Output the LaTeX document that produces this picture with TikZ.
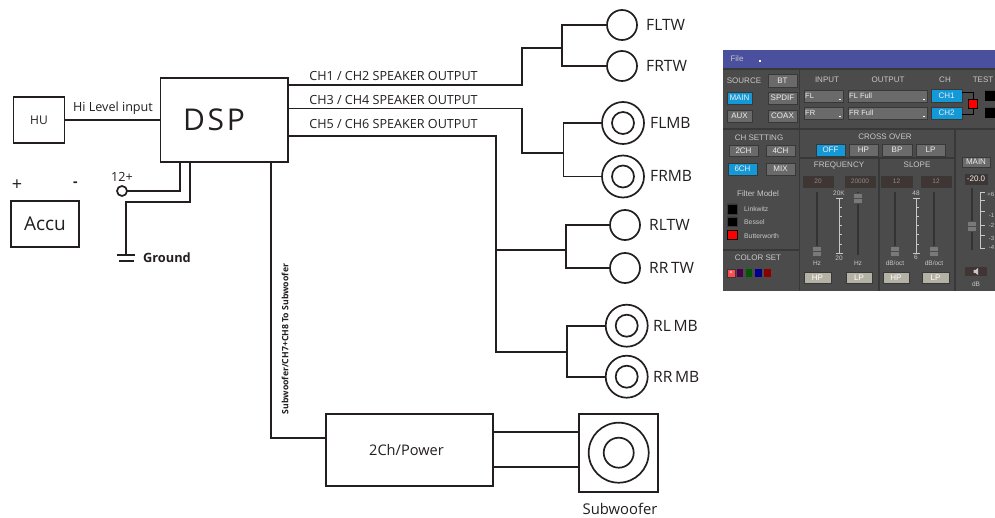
\documentclass[tikz,border=0pt]{standalone}
\usepackage{fontspec}
\setmainfont{Open Sans}
\newfontfamily\panelfont{Liberation Sans}
\definecolor{ink}{HTML}{231F20}
\definecolor{pbg}{HTML}{4B4B4B}
\definecolor{pdark}{HTML}{383838}
\definecolor{pbar}{HTML}{4A4F9E}
\definecolor{pbtn}{HTML}{6A6A6A}
\definecolor{pblue}{HTML}{1398D8}
\definecolor{ptxt}{HTML}{C8C8C8}
\definecolor{pdisp}{HTML}{3F3532}
\definecolor{plight}{HTML}{B4B2A4}
\newcounter{pn}
\newcommand\pb[6]{\stepcounter{pn}%
  \node[name=p\arabic{pn},pblock,fill=#5,minimum width=#3-#1,minimum height=#4-#2] at ({(#1+#3)/2},{(#2+#4)/2}) {};
  \node[name=t\arabic{pn},ptext,text=ptxt!30!white] at ({(#1+#3)/2},{(#2+#4)/2}) {#6};}
\newcommand\pt[3]{\stepcounter{pn}\node[name=t\arabic{pn},ptext] at (#1,#2) {#3};}
\newcommand\pts[3]{\stepcounter{pn}\node[name=t\arabic{pn},ptext,font=\panelfont\fontsize{6.5}{7}\selectfont] at (#1,#2) {#3};}
\newcommand\ptr[3]{\stepcounter{pn}\node[name=t\arabic{pn},ptext,anchor=east,font=\panelfont\fontsize{6}{7}\selectfont] at (#1,#2) {#3};}
\newcommand\pleft[3]{\stepcounter{pn}\node[name=t\arabic{pn},ptext,anchor=west,font=\panelfont\fontsize{6.8}{8}\selectfont] at (#1,#2) {#3};}
\newcommand\pdrop[5]{\pb{#1}{#2}{#3}{#4}{pbtn}{}%
  \stepcounter{pn}\node[name=t\arabic{pn},ptext,anchor=west,text=ptxt!30!white,font=\panelfont\fontsize{7.5}{8}\selectfont] at (#1+1,{(#2+#4)/2}) {#5};
  \fill[white] (#3-4,#4-3) rectangle (#3-2.5,#4-1.8);}
\newcommand\pslider[4]{% x, y1, y2, knob y
  \draw[black!80,line width=1.4pt] (#1,#2) -- (#1,#3);
  \fill[pbtn!90!white,draw=black!70,line width=.5pt] (#1-4.5,#4-5) rectangle (#1+4.5,#4+5);
  \draw[black!70,line width=.8pt] (#1-4.5,#4) -- (#1+4.5,#4);}
\newcommand\pscale[3]{% x, y1, y2
  \draw[ptxt,line width=.7pt] (#1,#2) -- (#1,#3);
  \foreach \k in {0,...,6} \draw[ptxt,line width=.5pt] (#1,{#2+(#3-#2)*\k/6}) -- ++(3,0);
  \draw[ptxt,line width=.7pt] (#1-3,#2) -- ++(7,0) (#1-3,#3) -- ++(7,0);}
\tikzset{
  wire/.style={draw=ink,line width=1.7pt,line join=miter},
  box/.style={draw=ink,line width=1.7pt,rectangle,inner sep=0pt,outer sep=0pt,text=ink},
  spk/.style={draw=ink,line width=1.7pt,circle,inner sep=0pt,outer sep=0pt,fill=white},
  lbl/.style={text=ink,inner sep=0pt,font=\fontsize{12.6}{14}\selectfont},
  spkl/.style={lbl,anchor=west,font=\fontsize{15.6}{17}\selectfont},
  pblock/.style={rectangle,inner sep=0pt,outer sep=0pt,draw=pdark,line width=.6pt},
  ptext/.style={inner sep=0pt,text=ptxt,font=\panelfont\fontsize{8}{9}\selectfont},
}
\begin{document}
\begin{tikzpicture}[x=1pt,y=-1pt]
\useasboundingbox (0,0) rectangle (995,518);
\fill[white] (0,0) rectangle (995,518);
% ---- boxes
\node[box,minimum width=51pt,minimum height=46pt,font=\fontsize{12}{14}\selectfont] (hu) at (39,120) {HU};
\node[box,minimum width=127.5pt,minimum height=84pt] (dsp) at (224.25,120) {};
\node[box,minimum width=68pt,minimum height=46pt,font=\fontsize{19}{21}\selectfont] (accu) at (45,224) {Accu};
\node[box,minimum width=167pt,minimum height=71.5pt] (pow) at (409.5,450) {};
\node[box,minimum width=79pt,minimum height=78pt] (subbox) at (618.5,453) {};
\node[spk,minimum size=60pt] (subo) at (618.7,452.7) {};
\node[spk,minimum size=30pt] (subi) at (618.7,452.7) {};
\node[lbl,font=\fontsize{30}{32}\selectfont] (tdsp) at (214,120) {\addfontfeature{LetterSpace=9}DSP};
\node[lbl,font=\fontsize{14.6}{16}\selectfont] (tpow) at (406.5,450) {2Ch/Power};
% ---- speakers
\node[spk,minimum size=30pt] (fltw) at (622,25) {};
\node[spk,minimum size=30pt] (frtw) at (622,66) {};
\node[spk,minimum size=42pt] (flmb) at (623,123) {};
\node[spk,minimum size=22pt] (flmbi) at (623,123) {};
\node[spk,minimum size=42pt] (frmb) at (623,176.5) {};
\node[spk,minimum size=22pt] (frmbi) at (623,176.5) {};
\node[spk,minimum size=30pt] (rltw) at (625,225) {};
\node[spk,minimum size=30pt] (rrtw) at (625,268) {};
\node[spk,minimum size=42pt] (rlmb) at (626.7,325.7) {};
\node[spk,minimum size=22pt] (rlmbi) at (626.7,325.7) {};
\node[spk,minimum size=42pt] (rrmb) at (626.7,376.7) {};
\node[spk,minimum size=22pt] (rrmbi) at (626.7,376.7) {};
\node[spkl] (tfltw) at (646,25) {FLTW};
\node[spkl] (tfrtw) at (646,66) {FRTW};
\node[spkl] (tflmb) at (650,123) {FLMB};
\node[spkl] (tfrmb) at (650,175.5) {FRMB};
\node[spkl] (trltw) at (649,225) {RLTW};
\node[spkl] (trrtw) at (649,268) {RR\,TW};
\node[spkl] (trlmb) at (653,325.5) {RL\,MB};
\node[spkl] (trrmb) at (653,377) {RR\,MB};
% ---- wires DSP to speakers
\coordinate (a1) at (522,85); \coordinate (a2) at (522,48); \coordinate (j1) at (562,48);
\draw[wire] (dsp.east|-a1) -- (a1) -- (a2) -- (j1);
\draw[wire] (fltw.west) -| (j1);
\draw[wire] (frtw.west) -| (j1);
\coordinate (b1) at (522,108.5); \coordinate (b2) at (522,153); \coordinate (j2) at (563.5,153);
\draw[wire] (dsp.east|-b1) -- (b1) -- (b2) -- (j2);
\draw[wire] (flmb.west) -| (j2);
\draw[wire] (frmb.west) -| (j2);
\coordinate (c1) at (496,136); \coordinate (c2) at (496,352); \coordinate (j4) at (567,352);
\coordinate (j3) at (566,250);
\draw[wire] (dsp.east|-c1) -- (c1) -- (c2) -- (j4);
\draw[wire] (c1|-j3) -- (j3);
\draw[wire] (rltw.west) -| (j3);
\draw[wire] (rrtw.west) -| (j3);
\draw[wire] (rlmb.west) -| (j4);
\draw[wire] (rrmb.west) -| (j4);
% ---- other wires
\draw[wire] (hu.east) -- (dsp.west);
\coordinate (s1) at (271,438);
\draw[wire] (dsp.south-|s1) -- (s1) -- (pow.west|-s1);
\coordinate (u1) at (493,432); \coordinate (u2) at (493,467);
\draw[wire] (pow.east|-u1) -- (subbox.west|-u1);
\draw[wire] (pow.east|-u2) -- (subbox.west|-u2);
% ---- power and ground
\node[spk,minimum size=10pt] (v12) at (122,191) {};
\coordinate (p1) at (180,191);
\draw[wire] (v12.east) -- (p1) -- (p1|-dsp.south);
\coordinate (g1) at (190,201.7); \coordinate (g2) at (126,201.7);
\coordinate (g3) at (126,255);
\draw[wire] (g1|-dsp.south) -- (g1) -- (g2) -- (g3);
\coordinate (gl1) at (117,255); \coordinate (gr1) at (135,255);
\coordinate (gl2) at (119,261); \coordinate (gr2) at (134,261);
\draw[wire] (gl1) -- (gr1);
\draw[wire] (gl2) -- (gr2);
% ---- labels
\node[lbl] (thi) at (113,108.5) {Hi Level input};
\node[lbl] (t12) at (122,177) {12+};
\node[lbl,font=\fontsize{18}{20}\selectfont] (tplus) at (17,185) {+};
\node[lbl,font=\bfseries\fontsize{14}{16}\selectfont] (tminus) at (75.5,184) {-};
\node[lbl,font=\bfseries\fontsize{12.8}{14}\selectfont] (tgnd) at (167,257.5) {Ground};
\node[lbl] (tch1) at (393.5,76) {CH1 / CH2 SPEAKER OUTPUT};
\node[lbl] (tch3) at (393.5,99.5) {CH3 / CH4 SPEAKER OUTPUT};
\node[lbl] (tch5) at (393.5,123.5) {CH5 / CH6 SPEAKER OUTPUT};
\node[lbl,rotate=90,font=\bfseries\fontsize{8.7}{10}\selectfont] (tsub) at (285,339) {Subwoofer/CH7+CH8 To Subwoofer};
\node[lbl,font=\fontsize{14.8}{16}\selectfont] (tsw) at (620,509) {Subwoofer};
% ---- software panel
\begin{scope}
\clip (723,50) rectangle (995,291);
\fill[pbg] (723,50) rectangle (995,291);
\fill[pbar] (723,50) rectangle (995,68);
\fill[pdark] (723,68) rectangle (995,70);
\draw[pdark,line width=1.2pt] (799.5,70) -- (799.5,291) (723,129) -- (995,129) (800,158) -- (955,158) (955,129) -- (955,291) (879,158) -- (879,291) (723,250) -- (800,250);
\pts{737}{59}{\fontsize{8}{9}\selectfont File}
\fill[white] (759,60.5) rectangle (760.5,62);
\pt{744}{81}{SOURCE}
\pb{768}{74}{797}{87}{pbtn}{BT}
\pb{727}{92}{752}{104}{pblue}{MAIN}
\pb{768}{92}{797}{104}{pbtn}{SPDIF}
\pb{727}{110}{752}{122}{pbtn}{AUX}
\pb{768}{110}{797}{122}{pbtn}{COAX}
\pt{827}{80}{INPUT}\pt{888}{80}{OUTPUT}\pt{945}{80}{CH}\pt{983}{80}{TEST}
\pdrop{804}{90}{843}{102}{FL}
\pdrop{804}{107}{843}{119}{FR}
\pdrop{848}{90}{927}{102}{FL Full}
\pdrop{848}{107}{927}{119}{FR Full}
\pb{931}{89}{962}{102}{pblue}{CH1}
\pb{931}{107}{962}{119}{pblue}{CH2}
\draw[black,line width=1pt] (962,93) -- (973,93) -- (973,115) -- (962,115);
\fill[red,draw=black,line width=1pt] (968.5,99.5) rectangle (977.5,108.5);
\fill[black] (985,91) rectangle (995,101) (985,108) rectangle (995,118);
\pt{759}{138}{CH SETTING}
\pb{729}{145}{758}{156}{pbtn}{2CH}
\pb{766}{145}{795}{156}{pbtn}{4CH}
\pb{728}{163}{757}{175}{pblue}{6CH}
\pb{766}{163}{795}{175}{pbtn}{MIX}
\pt{885}{137}{CROSS OVER}
\pb{816}{144}{845}{156}{pblue}{OFF}
\pb{849}{144}{878}{156}{pbtn}{HP}
\pb{882}{144}{912}{156}{pbtn}{BP}
\pb{916}{144}{945}{156}{pbtn}{LP}
\pt{839}{165}{FREQUENCY}\pt{917}{165}{SLOPE}
\pb{962}{157}{990}{167}{pbtn}{MAIN}
\pb{965}{174}{987}{184}{pdisp}{-20.0}
\pb{803}{176}{833}{187}{pdisp}{\fontsize{6.5}{7}\selectfont\color{ptxt!70!black}20}
\pb{845}{176}{875}{187}{pdisp}{\fontsize{6.5}{7}\selectfont\color{ptxt!70!black}20000}
\pb{881}{176}{912}{187}{pdisp}{\fontsize{6.5}{7}\selectfont\color{ptxt!70!black}12}
\pb{921}{176}{951}{187}{pdisp}{\fontsize{6.5}{7}\selectfont\color{ptxt!70!black}12}
\pscale{839}{198}{253}\pscale{916}{198}{253}
\pts{839}{193.5}{20K}\pts{839}{258}{20}\pts{916}{193}{48}\pts{916}{257.5}{6}
\pslider{817}{192}{255}{251}
\pslider{858}{192}{255}{198}
\pslider{895}{192}{255}{251}
\pslider{934}{192}{255}{251}
\pslider{972}{188}{250}{226}
\draw[ptxt,line width=.6pt] (980,192) -- (980,248);
\foreach \k in {192,200,211,225,235,248} \draw[ptxt,line width=.5pt] (980,\k) -- (985,\k);
\ptr{994.5}{194}{+6}\ptr{994.5}{215}{-1}\ptr{994.5}{225}{-2}\ptr{994.5}{238}{-3}\ptr{994.5}{247}{-4}
\pts{817}{263}{Hz}\pts{858}{263}{Hz}\pts{895}{263}{dB/oct}\pts{934}{263}{dB/oct}
\pb{804}{272}{831}{283}{plight}{\color{white}HP}
\pb{846}{272}{872}{283}{plight}{\color{white}LP}
\pb{883}{272}{909}{283}{plight}{\color{white}HP}
\pb{922}{272}{949}{283}{plight}{\color{white}LP}
\fill[pdisp] (965,267) rectangle (987,276);
\fill[ptxt] (973.5,270) rectangle (975.5,273) (975.5,273) -- (978,275) -- (978,268) -- (975.5,270) -- cycle;
\pts{976}{284}{dB}
\pt{758}{194}{Filter Model}
\fill[black,draw=pdark] (727,204) rectangle (737,214) (727,217) rectangle (737,226);
\fill[red,draw=black,line width=1pt] (727,231) rectangle (737,240);
\pleft{744}{209}{Linkwitz}\pleft{744}{222}{Bessel}\pleft{744}{236}{Butterworth}
\pt{758}{258}{COLOR SET}
\pb{727}{269}{735}{277}{red!70!white}{\fontsize{6}{6}\selectfont\color{white}×}
\fill[violet!60!black] (737,269) rectangle (743,277);
\fill[green!35!black] (746,269) rectangle (752,277);
\fill[blue!55!black] (755,269) rectangle (762,277);
\fill[red!55!black] (764,269) rectangle (771,277);
\end{scope}
\end{tikzpicture}
\end{document}
